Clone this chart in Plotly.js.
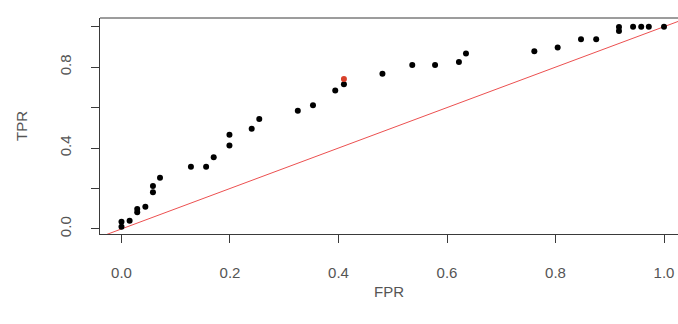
<!DOCTYPE html>
<html>
<head>
<meta charset="utf-8">
<script src="https://cdn.plot.ly/plotly-3.0.1.min.js"></script>
<style>html,body{margin:0;padding:0;background:#fff;}#chart{width:678px;height:324px;}</style>
</head>
<body>
<div id="chart"></div>
<script>
// ROC points
var fpr = [0.000, 0.000, 0.015, 0.029, 0.029, 0.044, 0.058, 0.058, 0.071, 0.128,
           0.156, 0.170, 0.199, 0.199, 0.240, 0.254, 0.325, 0.353, 0.394, 0.410,
           0.481, 0.536, 0.578, 0.622, 0.635, 0.761, 0.804, 0.847, 0.875, 0.917,
           0.917, 0.943, 0.958, 0.972, 1.000];
var tpr = [0.011, 0.036, 0.041, 0.082, 0.099, 0.110, 0.181, 0.212, 0.253, 0.308,
           0.308, 0.354, 0.413, 0.466, 0.495, 0.543, 0.584, 0.612, 0.685, 0.716,
           0.767, 0.810, 0.810, 0.826, 0.868, 0.879, 0.897, 0.938, 0.938, 0.979,
           0.999, 1.000, 1.000, 1.000, 1.000];
// highlighted point
var hiFpr = [0.410];
var hiTpr = [0.741];
// diagonal reference line (y = x)
var diagX = [-0.1, 1.1];
var diagY = [-0.1, 1.1];
var xTickVals = [0, 0.2, 0.4, 0.6, 0.8, 1.0];
var xTickText = ["0.0", "0.2", "0.4", "0.6", "0.8", "1.0"];
var yTickVals = [0, 0.2, 0.4, 0.6, 0.8, 1.0];
var yTickText = ["0.0", "", "0.4", "", "0.8", ""];

var fontFam = "Liberation Sans, Arial, sans-serif";
var txtCol = "#555555";
var axCol = "#3a3a3a";
var fs = 15;

var traces = [
  {x: diagX, y: diagY, mode: "lines", type: "scatter",
   line: {color: "#ec5050", width: 1}, hoverinfo: "skip"},
  {x: fpr, y: tpr, mode: "markers", type: "scatter",
   marker: {color: "#000000", size: 6, line: {width: 0}}},
  {x: hiFpr, y: hiTpr, mode: "markers", type: "scatter",
   marker: {color: "#d8402a", size: 6, line: {width: 0}}}
];

var layout = {
  width: 678, height: 324,
  margin: {l: 100, r: 0, t: 18, b: 90, pad: 0},
  paper_bgcolor: "#ffffff", plot_bgcolor: "#ffffff",
  showlegend: false,
  font: {family: fontFam, size: fs, color: txtCol},
  xaxis: {
    range: [-0.0396, 1.0258], showgrid: false, zeroline: false,
    showline: true, linecolor: axCol, linewidth: 1,
    ticks: "outside", ticklen: 8, tickcolor: axCol, tickwidth: 1,
    tickvals: xTickVals, ticktext: xTickText,
    ticklabelstandoff: 17,
    tickfont: {family: fontFam, size: fs, color: txtCol},
    title: {text: "FPR", font: {family: fontFam, size: fs, color: txtCol}, standoff: 6}
  },
  yaxis: {
    range: [-0.025, 1.043], showgrid: false, zeroline: false,
    showline: true, linecolor: axCol, linewidth: 1,
    ticks: "outside", ticklen: 8, tickcolor: axCol, tickwidth: 1,
    tickvals: yTickVals, ticktext: yTickText, tickangle: -90,
    ticklabelstandoff: 14,
    tickfont: {family: fontFam, size: fs, color: txtCol},
    title: {text: "TPR", font: {family: fontFam, size: fs, color: txtCol}, standoff: 25}
  },
  shapes: [
    {type: "line", xref: "paper", yref: "paper", x0: 0, x1: 1, y0: 1, y1: 1,
     line: {color: axCol, width: 1}}
  ]
};

Plotly.newPlot("chart", traces, layout, {displayModeBar: false, staticPlot: true});
</script>
</body>
</html>
